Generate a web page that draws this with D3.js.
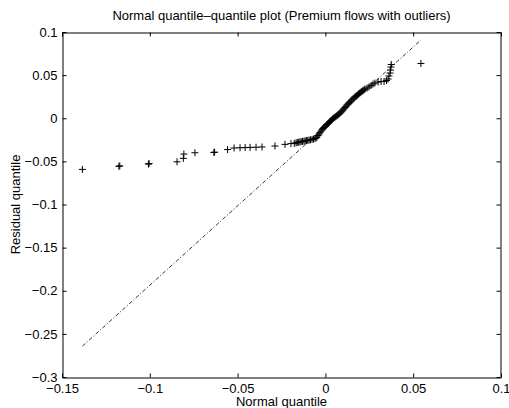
<!DOCTYPE html>
<html>
<head>
<meta charset="utf-8">
<script src="https://cdn.jsdelivr.net/npm/d3@7"></script>
<style>
  body { margin: 0; background: #fff; }
  text { font-family: "Liberation Sans", Arial, sans-serif; fill: #000; }
</style>
</head>
<body>
<svg width="509" height="408"></svg>
<script>
// sample quantiles (x = normal quantile, y = residual quantile)
var qqX = [
    -0.1384, -0.1176, -0.1171, -0.1008, -0.1004, -0.0845, -0.0809, -0.0806, -0.0743, -0.0635,
    -0.0631, -0.0557, -0.0520, -0.0486, -0.0457, -0.0429, -0.0395, -0.0361, -0.0287, -0.0230,
    -0.0196, -0.0177, -0.0167, -0.0160, -0.0152, -0.0145, -0.0138, -0.0130, -0.0122, -0.0115,
    -0.0108, -0.0100, -0.0093, -0.0085, -0.0076, -0.0068, -0.0059, -0.0053, -0.0048, -0.0042,
    -0.0036, -0.0031, -0.0025, -0.0019, -0.0014, -0.0008, -0.0002, 0.0004, 0.0009, 0.0015,
    0.0021, 0.0026, 0.0032, 0.0038, 0.0043, 0.0049, 0.0055, 0.0061, 0.0066, 0.0072,
    0.0077, 0.0083, 0.0089, 0.0094, 0.0100, 0.0106, 0.0112, 0.0117, 0.0123, 0.0129,
    0.0134, 0.0140, 0.0146, 0.0151, 0.0157, 0.0163, 0.0168, 0.0174, 0.0180, 0.0186,
    0.0191, 0.0197, 0.0203, 0.0209, 0.0214, 0.0220, 0.0225, 0.0237, 0.0248, 0.0260,
    0.0271, 0.0282, 0.0300, 0.0317, 0.0334, 0.0348, 0.0357, 0.0362, 0.0368, 0.0371,
    0.0373, 0.0375, 0.0544
];
var qqY = [
    -0.0593, -0.0558, -0.0552, -0.0532, -0.0524, -0.0505, -0.0465, -0.0415, -0.0400, -0.0397,
    -0.0393, -0.0363, -0.0345, -0.0342, -0.0340, -0.0338, -0.0336, -0.0333, -0.0322, -0.0303,
    -0.0294, -0.0291, -0.0285, -0.0280, -0.0278, -0.0274, -0.0270, -0.0268, -0.0265, -0.0262,
    -0.0259, -0.0256, -0.0253, -0.0250, -0.0246, -0.0241, -0.0236, -0.0228, -0.0218, -0.0200,
    -0.0183, -0.0166, -0.0149, -0.0134, -0.0119, -0.0107, -0.0096, -0.0085, -0.0073, -0.0062,
    -0.0050, -0.0038, -0.0027, -0.0015, -0.0003, 0.0006, 0.0014, 0.0022, 0.0031, 0.0040,
    0.0049, 0.0060, 0.0072, 0.0083, 0.0095, 0.0110, 0.0124, 0.0139, 0.0153, 0.0165,
    0.0176, 0.0188, 0.0200, 0.0212, 0.0223, 0.0235, 0.0246, 0.0255, 0.0263, 0.0275,
    0.0287, 0.0296, 0.0304, 0.0313, 0.0321, 0.0330, 0.0339, 0.0350, 0.0362, 0.0379,
    0.0397, 0.0408, 0.0420, 0.0426, 0.0427, 0.0437, 0.0455, 0.0490, 0.0524, 0.0559,
    0.0594, 0.0623, 0.0635
];

// fitted reference line (end points)
var refX = [-0.1384, 0.0544];
var refY = [-0.2643, 0.0907];

var xTicks = [-0.15, -0.1, -0.05, 0, 0.05, 0.1];
var yTicks = [0.1, 0.05, 0, -0.05, -0.1, -0.15, -0.2, -0.25, -0.3];

var titleText = 'Normal quantile\u2013quantile plot (Premium flows with outliers)';
var xLabel = 'Normal quantile';
var yLabel = 'Residual quantile';

draw();

function draw() {
    var left = 62, right = 501, top = 32, bottom = 377;

    var x = d3.scaleLinear().domain([-0.15, 0.1]).range([left, right]);
    var y = d3.scaleLinear().domain([-0.3, 0.1]).range([bottom, top]);

    var svg = d3.select('svg');
    var fmt = d => d === 0 ? '0' : String(d).replace('-', '\u2212');

    // reference line
    svg.append('line')
        .attr('x1', x(refX[0])).attr('y1', y(refY[0]))
        .attr('x2', x(refX[1])).attr('y2', y(refY[1]))
        .attr('stroke', '#000')
        .attr('stroke-width', 0.8)
        .attr('stroke-dasharray', '4,2,1,2');

    // markers
    var pts = qqX.map((v, i) => ({x: v, y: qqY[i]}));
    svg.append('g').selectAll('path')
        .data(pts)
        .enter().append('path')
        .attr('d', d => {
            var cx = x(d.x), cy = y(d.y), r = 3.5;
            return 'M' + (cx - r) + ',' + cy + 'H' + (cx + r) + 'M' + cx + ',' + (cy - r) + 'V' + (cy + r);
        })
        .attr('stroke', '#000')
        .attr('stroke-width', 1)
        .attr('fill', 'none');

    // axes (ticks point inward like matlab)
    var gx = svg.append('g').attr('transform', 'translate(0,' + (bottom + 0.5) + ')')
        .call(d3.axisBottom(x).tickValues(xTicks).tickSizeInner(-4).tickSizeOuter(0).tickPadding(6).tickFormat(fmt));
    svg.append('g').attr('transform', 'translate(0,' + (top + 0.5) + ')')
        .call(d3.axisTop(x).tickValues(xTicks).tickSizeInner(-4).tickSizeOuter(0).tickFormat(''));
    var gy = svg.append('g').attr('transform', 'translate(' + (left + 0.5) + ',0)')
        .call(d3.axisLeft(y).tickValues(yTicks).tickSizeInner(-4).tickSizeOuter(0).tickPadding(5).tickFormat(fmt));
    svg.append('g').attr('transform', 'translate(' + (right - 0.5) + ',0)')
        .call(d3.axisRight(y).tickValues(yTicks).tickSizeInner(-4).tickSizeOuter(0).tickFormat(''));

    svg.selectAll('.domain').attr('stroke', '#000');
    svg.selectAll('.tick line').attr('stroke', '#000');
    svg.selectAll('.tick text').style('font-size', '13px').attr('fill', '#000')
        .style('font-family', '"Liberation Sans", Arial, sans-serif');

    svg.append('text')
        .attr('x', (left + right) / 2).attr('y', 20)
        .attr('text-anchor', 'middle')
        .style('font-size', '13px')
        .text(titleText);

    svg.append('text')
        .attr('x', (left + right) / 2).attr('y', 406)
        .attr('text-anchor', 'middle')
        .style('font-size', '13px')
        .text(xLabel);

    svg.append('text')
        .attr('transform', 'translate(20,' + ((top + bottom) / 2) + ') rotate(-90)')
        .attr('text-anchor', 'middle')
        .style('font-size', '13px')
        .text(yLabel);
}
</script>
</body>
</html>
